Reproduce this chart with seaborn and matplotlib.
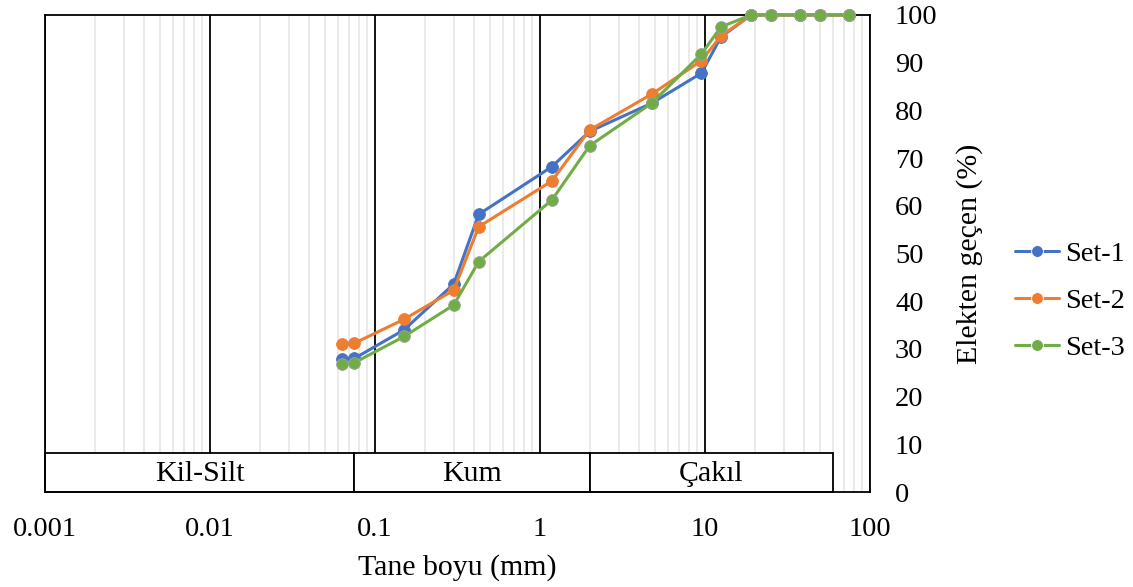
import matplotlib
matplotlib.use("Agg")
import matplotlib.pyplot as plt
import seaborn as sns
import pandas as pd
import numpy as np
from matplotlib.patches import Rectangle
from matplotlib.ticker import LogLocator, NullFormatter

# ---- data ----
sieve_mm = [75, 50, 37.5, 25, 19, 12.5, 9.5, 4.75, 2, 1.18, 0.425, 0.3, 0.15, 0.075, 0.063]
set1 = [100, 100, 100, 100, 100, 95.4, 87.8, 81.5, 75.6, 68.2, 58.2, 43.6, 34.0, 28.0, 27.9]
set2 = [100, 100, 100, 100, 100, 95.6, 90.4, 83.4, 75.9, 65.2, 55.6, 42.3, 36.2, 31.2, 31.0]
set3 = [100, 100, 100, 100, 100, 97.5, 91.8, 81.5, 72.6, 61.2, 48.3, 39.2, 32.6, 27.1, 26.8]
series_names = ["Set-1", "Set-2", "Set-3"]
band_edges = [0.001, 0.075, 2, 60]
band_labels = ["Kil-Silt", "Kum", "Çakıl"]
x_ticks = [0.001, 0.01, 0.1, 1, 10, 100]
x_tick_labels = ["0.001", "0.01", "0.1", "1", "10", "100"]
y_ticks = list(range(0, 101, 10))

df = pd.DataFrame({
    "size": sieve_mm * 3,
    "pass": set1 + set2 + set3,
    "set": [s for s in series_names for _ in sieve_mm],
})

sns.set_style("white")
plt.rcParams["font.family"] = ["Liberation Serif", "DejaVu Serif"]
plt.rcParams["font.size"] = 20.5
for key in ["text.color", "axes.labelcolor", "xtick.color", "ytick.color"]:
    plt.rcParams[key] = "black"

fig = plt.figure(figsize=(11.33, 5.87), dpi=100)
ax = fig.add_axes([45 / 1133, 1 - 492 / 587, (870 - 45) / 1133, (492 - 15) / 587])

palette = {"Set-1": "#4472C4", "Set-2": "#ED7D31", "Set-3": "#70AD47"}
sns.lineplot(data=df, x="size", y="pass", hue="set", palette=palette, marker="o",
             markersize=8.5, linewidth=2.2, markeredgewidth=0.6, ax=ax, zorder=5)
for ln, name in zip(ax.get_lines(), series_names):
    ln.set_markeredgecolor("#a0a0a0" if name == "Set-3" else ln.get_color())
    ln.set_clip_on(False)

ax.set_xscale("log")
ax.set_xlim(0.001, 100)
ax.set_ylim(0, 100)
ax.set_xticks(x_ticks)
ax.set_xticklabels(x_tick_labels)
ax.xaxis.set_minor_locator(LogLocator(base=10, subs=np.arange(2, 10)))
ax.xaxis.set_minor_formatter(NullFormatter())
ax.set_yticks(y_ticks)
ax.yaxis.tick_right()
ax.yaxis.set_label_position("right")
ax.tick_params(axis="both", which="both", length=0, labelsize=20.5, colors="black")
ax.tick_params(axis="x", pad=18)
ax.tick_params(axis="y", pad=18)

ax.set_axisbelow(True)
ax.grid(False)
ax.xaxis.grid(True, which="minor", color="#e6e6e6", linewidth=1.2)
ax.xaxis.grid(True, which="major", color="black", linewidth=1.3)
for sp in ax.spines.values():
    sp.set_color("black")
    sp.set_linewidth(1.3)
    sp.set_visible(True)

ax.set_xlabel("Tane boyu (mm)", labelpad=9, fontsize=21.5, color="black")
ax.set_ylabel("Elekten geçen (%)", labelpad=13, fontsize=21.5, color="black")

# classification band
band_h = 39 / 477
tr = ax.get_xaxis_transform()
for i, lab in enumerate(band_labels):
    x0, x1 = band_edges[i], band_edges[i + 1]
    ax.add_patch(Rectangle((x0, 0), x1 - x0, band_h, transform=tr, facecolor="white",
                           edgecolor="black", linewidth=1.3, zorder=2, clip_on=False))
    xc = np.sqrt(x0 * x1)
    ax.text(xc, band_h / 2 - 0.004, lab, transform=tr, ha="center", va="center",
            zorder=3, fontsize=21.5, color="black")

ax.legend(title=None, frameon=False, loc="center left", fontsize=20.5,
          bbox_to_anchor=(1015 / 1133, 1 - 301 / 587), bbox_transform=fig.transFigure,
          handlelength=1.55, handletextpad=0.2, labelspacing=0.74, borderaxespad=0,
          borderpad=0)

fig.savefig("out.png", dpi=100)
